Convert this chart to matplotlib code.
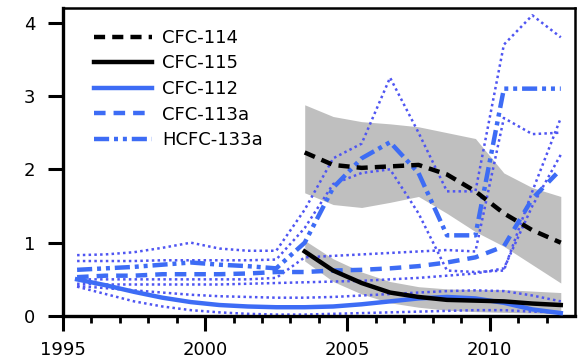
import numpy as np
import matplotlib
matplotlib.use("Agg")
import matplotlib.pyplot as plt

# yearly values, mid-year
years = np.arange(1995.5, 2013.0, 1.0)
years_late = np.arange(2003.5, 2013.0, 1.0)

cfc114 = [2.23, 2.06, 2.02, 2.04, 2.06, 1.93, 1.70, 1.40, 1.17, 1.00]
cfc114_hi = [2.88, 2.72, 2.65, 2.62, 2.58, 2.50, 2.42, 1.95, 1.75, 1.63]
cfc114_lo = [1.68, 1.52, 1.48, 1.55, 1.63, 1.40, 1.15, 0.95, 0.70, 0.45]

cfc115 = [0.88, 0.62, 0.45, 0.32, 0.26, 0.22, 0.21, 0.20, 0.17, 0.15]
cfc115_hi = [1.03, 0.78, 0.60, 0.47, 0.40, 0.37, 0.36, 0.36, 0.34, 0.32]
cfc115_lo = [0.75, 0.47, 0.30, 0.18, 0.12, 0.08, 0.06, 0.05, 0.04, 0.03]

cfc112 = [0.50, 0.42, 0.33, 0.25, 0.19, 0.15, 0.13, 0.12, 0.12, 0.13,
          0.16, 0.20, 0.24, 0.26, 0.24, 0.18, 0.09, 0.04]
cfc113a = [0.53, 0.55, 0.55, 0.57, 0.57, 0.57, 0.58, 0.60, 0.60, 0.62,
           0.63, 0.65, 0.68, 0.73, 0.80, 0.95, 1.60, 2.00]
hcfc133a = [0.63, 0.65, 0.67, 0.70, 0.73, 0.70, 0.68, 0.65, 1.00, 1.75,
            2.15, 2.37, 1.95, 1.10, 1.10, 3.10, 3.10, 3.10]

# individual records (dotted)
records = [
    [0.83, 0.84, 0.87, 0.93, 1.00, 0.92, 0.89, 0.89, 1.45, 2.15,
     2.35, 3.25, 2.50, 1.70, 1.70, 3.70, 4.10, 3.80],
    [0.75, 0.75, 0.75, 0.76, 0.76, 0.76, 0.76, 0.77, 1.20, 1.80,
     1.95, 2.00, 1.40, 0.62, 0.60, 0.62, 1.70, 2.70],
    [0.50, 0.50, 0.50, 0.50, 0.50, 0.50, 0.50, 0.52, 0.80, 0.82,
     0.84, 0.86, 0.88, 0.90, 0.88, 2.70, 2.48, 2.50],
    [0.44, 0.43, 0.43, 0.43, 0.43, 0.43, 0.44, 0.45, 0.46, 0.47,
     0.48, 0.50, 0.52, 0.55, 0.58, 0.65, 1.50, 2.20],
    [0.41, 0.38, 0.35, 0.32, 0.29, 0.27, 0.26, 0.25, 0.25, 0.26,
     0.28, 0.30, 0.32, 0.34, 0.35, 0.34, 0.28, 0.20],
    [0.40, 0.30, 0.20, 0.13, 0.08, 0.05, 0.03, 0.02, 0.02, 0.03,
     0.04, 0.05, 0.06, 0.07, 0.08, 0.08, 0.06, 0.05],
]

blue = "#3d6cf5"
dot_blue = "#4f55f2"
band_grey = "#bfbfbf"

plt.rcParams["font.family"] = "DejaVu Sans"
fig = plt.figure(figsize=(5.82, 3.62), dpi=100)
ax = fig.add_axes([0.108, 0.127, 0.88, 0.851])

ax.fill_between(years_late, cfc114_lo, cfc114_hi, color=band_grey, lw=0, zorder=1)
ax.fill_between(years_late, cfc115_lo, cfc115_hi, color=band_grey, lw=0, zorder=1)

for rec in records:
    ax.plot(years, rec, color=dot_blue, lw=1.8, ls=(0, (1, 1.3)), zorder=2)

ax.plot(years_late, cfc114, color="black", lw=3.2, ls=(0, (2.5, 1.6)),
        label="CFC-114", zorder=5)
ax.plot(years_late, cfc115, color="black", lw=3.2, label="CFC-115", zorder=5)
ax.plot(years, cfc112, color=blue, lw=3.2, label="CFC-112", zorder=4)
ax.plot(years, cfc113a, color=blue, lw=3.2, ls=(0, (2.6, 1.8)),
        label="CFC-113a", zorder=4)
ax.plot(years, hcfc133a, color=blue, lw=3.2,
        ls=(0, (3.4, 1.1, 0.9, 1.1, 0.9, 1.1)), label="HCFC-133a", zorder=4)

ax.set_xlim(1995, 2013)
ax.set_ylim(0, 4.2)
ax.set_xticks([1995, 2000, 2005, 2010])
ax.set_xticks(np.arange(1996, 2013), minor=True)
ax.set_yticks([0, 1, 2, 3, 4])
ax.tick_params(axis="both", which="major", direction="out", length=11,
               width=2.2, labelsize=13)
ax.tick_params(axis="y", which="major", pad=9)
ax.tick_params(axis="x", which="minor", direction="out", length=5, width=2)
ax.tick_params(axis="x", which="major", pad=7)

for side in ["left", "bottom"]:
    ax.spines[side].set_linewidth(2.4)
for side in ["top", "right"]:
    ax.spines[side].set_linewidth(1.8)

ax.legend(loc="upper left", frameon=False, fontsize=13, handlelength=3.2,
          handletextpad=0.55, labelspacing=0.42, bbox_to_anchor=(0.03, 0.985))

fig.savefig("out.png", dpi=100)
